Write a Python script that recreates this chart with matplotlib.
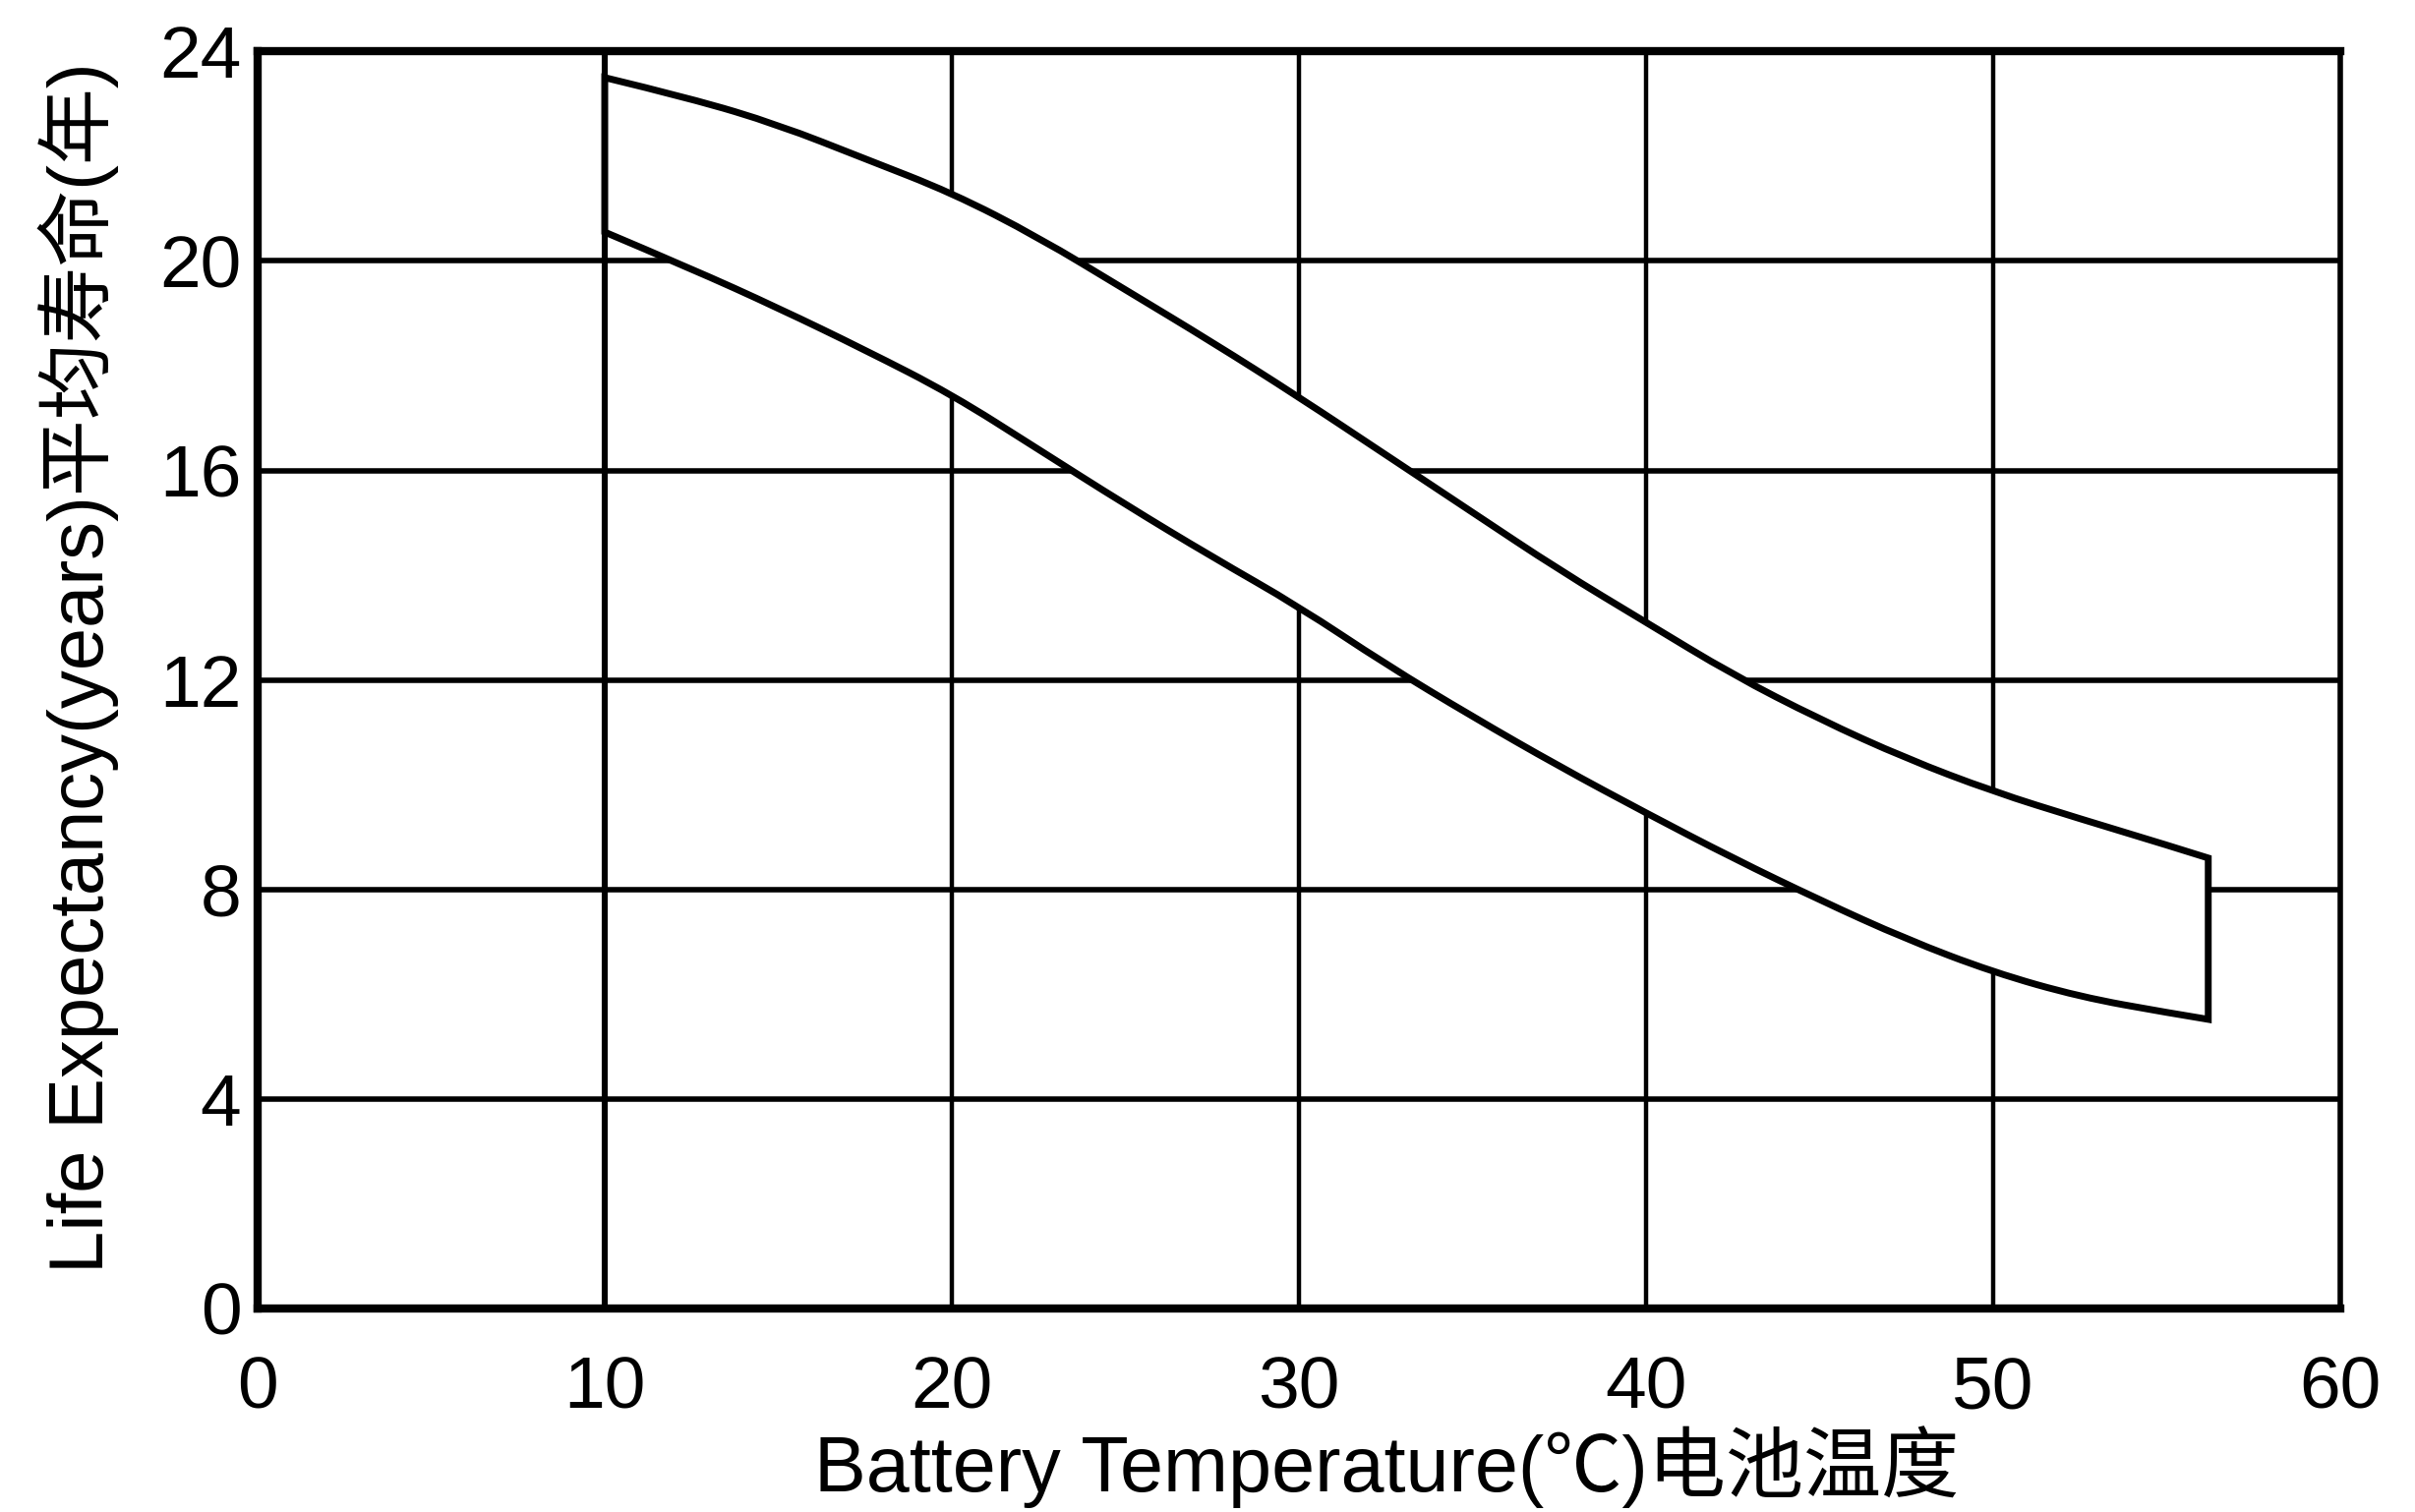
from matplotlib import pyplot as plt
from matplotlib.path import Path
from matplotlib.patches import PathPatch
import numpy as np

plt.rcParams['font.family'] = ['Liberation Sans', 'Noto Sans CJK SC', 'DejaVu Sans']

# Band: upper and lower edge of life expectancy (years)
temps = [10, 12.5, 15, 17.5, 20, 22.5, 25, 27.5, 30, 32.5,
         35, 37.5, 40, 42.5, 45, 47.5, 50, 52.5, 55, 56.2]
upper_life = [23.5, 23.1, 22.6, 21.95, 21.3, 20.45, 19.45, 18.45, 17.4, 16.3,
              15.2, 14.1, 13.1, 12.1, 11.25, 10.5, 9.87, 9.35, 8.85, 8.6]
lower_life = [20.55, 19.85, 19.1, 18.3, 17.45, 16.4, 15.35, 14.35, 13.4, 12.3,
              11.3, 10.35, 9.46, 8.6, 7.8, 7.05, 6.42, 5.95, 5.65, 5.52]

x_ticks = [0, 10, 20, 30, 40, 50, 60]
y_ticks = [0, 4, 8, 12, 16, 20, 24]

x_label = 'Battery Temperature(℃)电池温度'
y_label = 'Life Expectancy(years)平均寿命(年)'


def smooth_segments(pts):
    # quadratic bezier pieces: read points act as control points,
    # midpoints between them are on the curve
    verts = [pts[0]]
    codes = []
    for i in range(1, len(pts) - 1):
        mid = (pts[i] + pts[i + 1]) / 2 if i < len(pts) - 2 else pts[i + 1]
        verts += [pts[i], mid]
        codes += [Path.CURVE3, Path.CURVE3]
    return verts, codes


fig = plt.figure(figsize=(12.28, 7.69), dpi=200)
ax = fig.add_axes([0.1067, 0.1346, 0.969 - 0.1067, 0.966 - 0.1346])

ax.set_xlim(x_ticks[0], x_ticks[-1])
ax.set_ylim(y_ticks[0], y_ticks[-1])

# grid: horizontal lines heavier than vertical ones
for y in y_ticks[1:-1]:
    ax.axhline(y, color='black', lw=2.0, zorder=1)
for x in x_ticks[1:-1]:
    ax.axvline(x, color='black', lw=2.2 if x == 10 else 1.6, zorder=1)

# white band covering the grid, closed outline
up_pts = np.column_stack([temps, upper_life])
lo_pts = np.column_stack([temps, lower_life])[::-1]

up_verts, up_codes = smooth_segments(up_pts)
lo_verts, lo_codes = smooth_segments(lo_pts)

verts = up_verts + lo_verts + [up_pts[0]]
codes = [Path.MOVETO] + up_codes + [Path.LINETO] + lo_codes + [Path.CLOSEPOLY]
band = PathPatch(Path(verts, codes), facecolor='white', edgecolor='black',
                 lw=2.5, joinstyle='miter', zorder=3)
ax.add_patch(band)

ax.set_xticks(x_ticks)
ax.set_yticks(y_ticks)
ax.tick_params(axis='both', length=0, labelsize=27)
ax.tick_params(axis='x', pad=17)
ax.tick_params(axis='y', pad=6)

for side, w in {'top': 3.0, 'bottom': 3.0, 'left': 3.0, 'right': 2.0}.items():
    ax.spines[side].set_linewidth(w)
    ax.spines[side].set_zorder(4)

ax.text(0.542, -0.093, x_label, transform=ax.transAxes, fontsize=28.5,
        ha='center', va='top')
ax.text(-0.086, 0.51, y_label, transform=ax.transAxes, fontsize=28,
        ha='center', va='center', rotation=90)

fig.savefig('out.png', dpi=200, facecolor='white')
plt.close(fig)
